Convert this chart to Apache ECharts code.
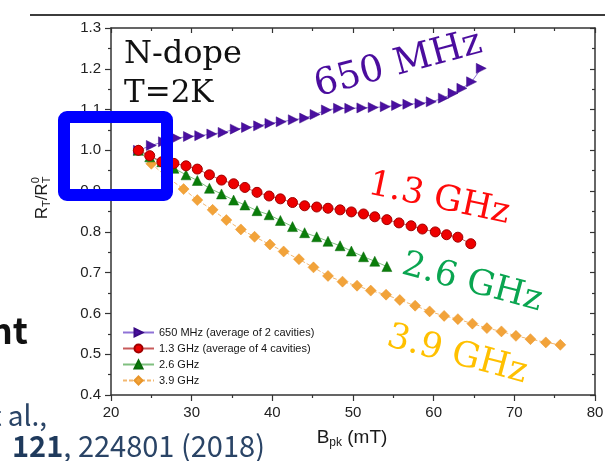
<!DOCTYPE html>
<html>
<head>
<meta charset="utf-8">
<script src="https://cdn.jsdelivr.net/npm/echarts@6/dist/echarts.min.js"></script>
<style>
html,body{margin:0;padding:0;background:#ffffff;}
#c{width:615px;height:461px;}
</style>
</head>
<body>
<div id="c"></div>
<script>
// ---------- data ----------
const seriesNames = [
  '650 MHz (average of 2 cavities)',
  '1.3 GHz (average of 4 cavities)',
  '2.6 GHz',
  '3.9 GHz'
];
const xTickValues = [20, 30, 40, 50, 60, 70, 80];
const yTickValues = [0.4, 0.5, 0.6, 0.7, 0.8, 0.9, 1.0, 1.1, 1.2, 1.3];

const bpk650 = [23.4, 25.0, 26.5, 28.1, 29.6, 31.0, 32.5, 33.9, 35.4, 36.8, 38.3, 39.7, 41.1, 42.6, 44.0, 45.3, 46.7, 48.2, 49.6, 51.1, 52.5, 54.0, 55.4, 56.8, 58.3, 59.7, 61.2, 62.4, 63.5, 64.7, 65.9];
const ratio650 = [1.000, 1.012, 1.021, 1.030, 1.034, 1.036, 1.040, 1.044, 1.052, 1.056, 1.060, 1.066, 1.070, 1.075, 1.079, 1.088, 1.099, 1.103, 1.103, 1.104, 1.105, 1.107, 1.110, 1.113, 1.115, 1.119, 1.128, 1.140, 1.152, 1.168, 1.201];

const bpk13 = [23.4, 24.8, 26.3, 27.8, 29.3, 30.7, 32.2, 33.7, 35.2, 36.6, 38.1, 39.6, 41.0, 42.5, 44.0, 45.5, 46.9, 48.4, 49.8, 51.3, 52.7, 54.2, 55.7, 57.2, 58.6, 60.2, 61.6, 63.0, 64.6];
const ratio13 = [1.000, 0.987, 0.972, 0.968, 0.962, 0.954, 0.940, 0.927, 0.918, 0.909, 0.897, 0.888, 0.881, 0.872, 0.864, 0.861, 0.858, 0.854, 0.849, 0.844, 0.837, 0.830, 0.822, 0.815, 0.807, 0.800, 0.793, 0.787, 0.771];

const bpk26 = [23.4, 24.8, 26.3, 27.8, 29.3, 30.7, 32.2, 33.7, 35.2, 36.6, 38.1, 39.6, 41.0, 42.5, 44.0, 45.5, 46.9, 48.4, 49.8, 51.3, 52.7, 54.2];
const ratio26 = [1.000, 0.984, 0.972, 0.956, 0.940, 0.926, 0.907, 0.893, 0.878, 0.866, 0.852, 0.842, 0.828, 0.813, 0.798, 0.788, 0.777, 0.766, 0.753, 0.739, 0.728, 0.715];

const bpk39 = [23.4, 25.0, 26.9, 29.0, 30.7, 32.6, 34.3, 36.1, 37.8, 39.7, 41.4, 43.3, 45.1, 46.9, 48.7, 50.5, 52.2, 54.1, 55.8, 57.7, 59.5, 61.3, 63.0, 64.8, 66.6, 68.4, 70.2, 72.0, 73.9, 75.7];
const ratio39 = [1.000, 0.967, 0.935, 0.905, 0.878, 0.854, 0.829, 0.806, 0.788, 0.769, 0.752, 0.733, 0.713, 0.692, 0.678, 0.668, 0.656, 0.646, 0.633, 0.619, 0.605, 0.594, 0.586, 0.575, 0.564, 0.556, 0.545, 0.537, 0.529, 0.523];

// ---------- helpers ----------
function zip(xs, ys) { return xs.map((x, i) => [x, ys[i]]); }
const mctx = document.createElement('canvas').getContext('2d');
function tw(font, s) { mctx.font = font; return mctx.measureText(s).width; }

const SANS = '"Liberation Sans", Arial, sans-serif';
const SERIF = '"DejaVu Serif", serif';
const CJK = '"Noto Sans CJK JP", "Noto Sans", sans-serif';

// horizontal run of text pieces (for sub/superscripts) centred on 0
function textRun(pieces) {
  // piece: [text, size, dy, sameXAsPrev]
  let x = 0; const out = []; let prevX = 0;
  pieces.forEach(p => {
    const font = p[1] + 'px ' + SANS;
    const px = p[3] ? prevX : x;
    out.push({ text: p[0], font: font, x: px, dy: p[2] });
    if (!p[3]) { prevX = x; x += tw(font, p[0]); }
  });
  const w = x;
  return out.map(o => ({
    type: 'text', x: o.x - w / 2, y: o.dy,
    style: { text: o.text, font: o.font, fill: '#1a1a1a', align: 'left', verticalAlign: 'middle' }
  }));
}

// ---------- chart ----------
const chart = echarts.init(document.getElementById('c'), null, { renderer: 'canvas' });

const axisColor = '#333333';
const commonX = {
  type: 'value', min: 20, max: 80, interval: 10,
  splitLine: { show: false },
  axisLine: { show: true, onZero: false, lineStyle: { color: axisColor, width: 1.5 } },
  minorTick: { show: true, splitNumber: 2, length: 3, lineStyle: { color: axisColor, width: 1.2 } }
};
const commonY = {
  type: 'value', min: 0.4, max: 1.3, interval: 0.1,
  splitLine: { show: false },
  axisLine: { show: true, onZero: false, lineStyle: { color: axisColor, width: 1.5 } },
  minorTick: { show: true, splitNumber: 2, length: 3, lineStyle: { color: axisColor, width: 1.2 } }
};

const option = {
  animation: false,
  backgroundColor: '#ffffff',
  grid: { left: 111, right: 20, top: 28, bottom: 66, containLabel: false },
  xAxis: [
    Object.assign({}, commonX, {
      position: 'bottom',
      axisTick: { show: true, inside: false, length: 6, lineStyle: { color: axisColor, width: 1.2 } },
      axisLabel: {
        show: true, margin: 10, fontSize: 15, color: '#222', fontFamily: SANS,
        customValues: xTickValues, formatter: v => String(v)
      }
    }),
    Object.assign({}, commonX, {
      position: 'top',
      axisTick: { show: true, inside: true, length: 5, lineStyle: { color: axisColor, width: 1.2 } },
      axisLabel: { show: false }
    })
  ],
  yAxis: [
    Object.assign({}, commonY, {
      position: 'left',
      axisTick: { show: true, inside: false, length: 6, lineStyle: { color: axisColor, width: 1.2 } },
      axisLabel: {
        show: true, margin: 10, fontSize: 15, color: '#222', fontFamily: SANS,
        customValues: yTickValues, formatter: v => Number(v).toFixed(1)
      }
    }),
    Object.assign({}, commonY, {
      position: 'right',
      axisTick: { show: true, inside: true, length: 5, lineStyle: { color: axisColor, width: 1.2 } },
      axisLabel: { show: false }
    })
  ],
  legend: {
    data: seriesNames,
    orient: 'vertical',
    left: 122, top: 327,
    padding: 0,
    itemWidth: 31, itemHeight: 10, itemGap: 5,
    textStyle: { fontSize: 11, color: '#151515', fontFamily: SANS, padding: [0, 0, 0, 0] },
    selectedMode: false
  },
  series: [
    {
      name: seriesNames[0], type: 'line', z: 2,
      data: zip(bpk650, ratio650),
      symbol: 'triangle', symbolRotate: -90, symbolSize: 10,
      lineStyle: { color: '#8f72d6', width: 1 },
      itemStyle: { color: '#4a0fa0', borderColor: '#3a0a85', borderWidth: 0.5 }
    },
    {
      name: seriesNames[1], type: 'line', z: 5,
      data: zip(bpk13, ratio13),
      symbol: 'circle', symbolSize: 10,
      lineStyle: { color: '#c85a5a', width: 1 },
      itemStyle: { color: '#ee0000', borderColor: '#a00000', borderWidth: 1 }
    },
    {
      name: seriesNames[2], type: 'line', z: 4,
      data: zip(bpk26, ratio26),
      symbol: 'triangle', symbolSize: 10,
      lineStyle: { color: '#7fbf7f', width: 1 },
      itemStyle: { color: '#0a7d0a', borderColor: '#0a6a0a', borderWidth: 0.5 }
    },
    {
      name: seriesNames[3], type: 'line', z: 3,
      data: zip(bpk39, ratio39),
      symbol: 'diamond', symbolSize: 11,
      lineStyle: { color: '#f3b870', width: 1, type: [4, 2] },
      itemStyle: { color: '#f2a33a', borderColor: '#e8952a', borderWidth: 0.5 }
    }
  ],
  graphic: []
};

const g = [];
// slide decorations
g.push({ type: 'line', z: 100, shape: { x1: 30, y1: 15, x2: 605, y2: 15 }, style: { stroke: '#3c3c3c', lineWidth: 2 } });
g.push({ type: 'text', z: 100, x: 28, y: 348, style: { text: 'nt', font: 'bold 36px ' + CJK, fill: '#111', align: 'right', verticalAlign: 'bottom' } });
g.push({ type: 'text', z: 100, x: 47, y: 429, style: { text: 't al.,', font: '28px ' + CJK, fill: '#2a4466', align: 'right', verticalAlign: 'bottom' } });
g.push({ type: 'text', z: 100, x: 12, y: 460, style: {
  text: '{b|121}{n|, 224801 (2018)}', align: 'left', verticalAlign: 'bottom',
  rich: {
    b: { fontSize: 29, fontWeight: 'bold', fontFamily: CJK, fill: '#1f3a5c' },
    n: { fontSize: 29, fontFamily: CJK, fill: '#2a4466' }
  }
} });
// axis titles
g.push({ type: 'group', x: 42, y: 198, rotation: Math.PI / 2, children: textRun([
  ['R', 17, 0], ['T', 11, 5], ['/R', 17, 0], ['T', 11, 5], ['0', 11, -6, true]
]) });
g.push({ type: 'group', x: 352, y: 438, children: textRun([
  ['B', 19, 0], ['pk', 12, 5], [' (mT)', 19, 0]
]) });
// annotations
function ann(text, x, yBase, size, color, deg) {
  return { type: 'text', z: 50, x: x, y: yBase + 0.24 * size, rotation: deg * Math.PI / 180,
    style: { text: text, font: size + 'px ' + SERIF, fill: color, align: 'left', verticalAlign: 'bottom' } };
}
g.push(ann('N-dope', 124, 63, 32, '#111111', 0));
g.push(ann('T=2K', 124, 102, 31, '#111111', 0));
g.push(ann('650 MHz', 320, 96, 37, '#4b0d9e', 15));
g.push(ann('1.3 GHz', 365, 193, 35, '#ff0a0a', -12));
g.push(ann('2.6 GHz', 398, 273, 35, '#0aa550', -15));
g.push(ann('3.9 GHz', 383, 345, 35, '#ffc000', -15));
// blue highlight box
g.push({ type: 'rect', z: 120, shape: { x: 64, y: 117, width: 103, height: 78, r: 3 },
  style: { fill: 'none', stroke: '#0000ff', lineWidth: 12 } });

option.graphic = g;
chart.setOption(option);
</script>
</body>
</html>
